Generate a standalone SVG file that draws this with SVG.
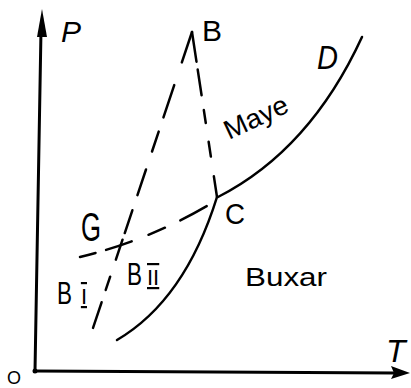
<svg xmlns="http://www.w3.org/2000/svg" width="411" height="388" viewBox="0 0 411 388">
<style>
text{font-family:"Liberation Sans","DejaVu Sans",sans-serif;fill:#000}
.ax{stroke:#000;stroke-width:3;fill:none;stroke-linecap:round}
.cur{stroke:#000;stroke-width:2.5;fill:none;stroke-linecap:round}
.dash{stroke:#000;stroke-width:2.5;fill:none;stroke-linecap:round}
.rn{text-decoration:overline underline}
</style>
<rect width="411" height="388" fill="#fff"/>
<g id="axes">
<path class="ax" d="M35,371 L41,30"/>
<polygon points="42,9 37,37 47,37" fill="#000"/>
<path class="ax" d="M35,371 L395,373"/>
<polygon points="410,373 391,366 394,373 391,379" fill="#000"/>
<circle cx="35" cy="371" r="2.5" fill="#000"/>
</g>
<g id="connectors">
<path class="dash" d="M192,32 L93,328" stroke-dasharray="32 24 34 15 21 19 27 16 24 7 21 18 14 13 27"/>
<path class="dash" d="M192,32 L217,197" stroke-dasharray="30 8 26 15 13 19 15 20 21"/>
<path class="dash" d="M80,257 Q150,240 212,203" stroke-dasharray="16 11 27 18 18 17 30"/>
<path class="cur" d="M117,340 Q185,300 217,197"/>
<path class="cur" d="M218,197 Q310,150 362,37"/>
</g>
<g id="labels">
<text id="O" x="7" y="384" font-size="18">O</text>
<text id="P" x="61" y="42" font-size="30" font-style="italic">P</text>
<text id="T" x="386" y="362" font-size="32" font-style="italic">T</text>
<text id="B" x="202" y="41" font-size="30">B</text>
<text id="D" x="317" y="69" font-size="34" font-style="italic" textLength="21" lengthAdjust="spacingAndGlyphs">D</text>
<text id="Maye" font-size="27" transform="translate(229,140) rotate(-25)" textLength="68" lengthAdjust="spacingAndGlyphs">Maye</text>
<text id="C" x="225" y="224" font-size="30" textLength="20" lengthAdjust="spacingAndGlyphs">C</text>
<text id="G" x="81" y="241" font-size="40" textLength="20" lengthAdjust="spacingAndGlyphs">G</text>
<text id="Buxar" x="245" y="286" font-size="26" textLength="82" lengthAdjust="spacingAndGlyphs">Buxar</text>
<text id="BI" x="57" y="304" font-size="32" textLength="30" lengthAdjust="spacing"><tspan textLength="15" lengthAdjust="spacingAndGlyphs">B</tspan><tspan dx="6" class="rn" font-size="22">I</tspan></text>
<text id="BII" x="127" y="285" font-size="32"><tspan textLength="15" lengthAdjust="spacingAndGlyphs">B</tspan><tspan dx="5" class="rn" font-size="22">II</tspan></text>
</g>
</svg>
